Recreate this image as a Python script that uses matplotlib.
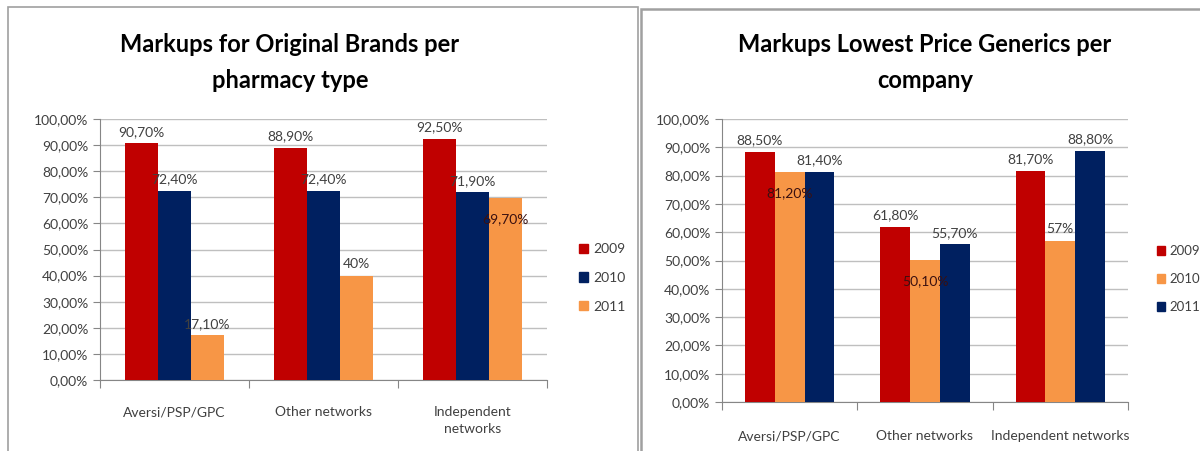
import matplotlib
matplotlib.use('Agg')
import matplotlib.pyplot as plt
from matplotlib.patches import Rectangle
from matplotlib.ticker import FuncFormatter, MultipleLocator

plt.rcParams['font.family'] = ['Lato', 'DejaVu Sans']

# data
years = ['2009', '2010', '2011']
left_cats = ['Aversi/PSP/GPC', 'Other networks', 'Independent\nnetworks']
left_vals = {'2009': [90.7, 88.9, 92.5],
             '2010': [72.4, 72.4, 71.9],
             '2011': [17.1, 40.0, 69.7]}
left_labels = {'2009': ['90,70%', '88,90%', '92,50%'],
               '2010': ['72,40%', '72,40%', '71,90%'],
               '2011': ['17,10%', '40%', '69,70%']}
right_cats = ['Aversi/PSP/GPC', 'Other networks', 'Independent networks']
right_vals = {'2009': [88.5, 61.8, 81.7],
              '2010': [81.2, 50.1, 57.0],
              '2011': [81.4, 55.7, 88.8]}
right_labels = {'2009': ['88,50%', '61,80%', '81,70%'],
                '2010': ['81,20%', '50,10%', '57%'],
                '2011': ['81,40%', '55,70%', '88,80%']}

RED = '#C00000'
NAVY = '#002060'
ORANGE = '#F79646'
left_colors = {'2009': RED, '2010': NAVY, '2011': ORANGE}
right_colors = {'2009': RED, '2010': ORANGE, '2011': NAVY}

W, H = 1200, 451
fig = plt.figure(figsize=(12, 4.51), dpi=100)


def px_axes(x0, y0, x1, y1):
    return fig.add_axes([x0 / W, 1 - y1 / H, (x1 - x0) / W, (y1 - y0) / H])


def draw_chart(ax, cats, vals, labels, colors, inside):
    w = 0.22
    for i, y in enumerate(years):
        xs = [k + 0.5 + (i - 1) * w for k in range(len(cats))]
        ax.bar(xs, vals[y], width=w, color=colors[y], zorder=3)
        for k, (x, v) in enumerate(zip(xs, vals[y])):
            if (y, k) in inside:
                ax.annotate(labels[y][k], (x, v), xytext=(0, -15), textcoords='offset points',
                            ha='center', va='center', fontsize=10, color='#3a1010', zorder=4)
            else:
                ax.annotate(labels[y][k], (x, v), xytext=(0, 4), textcoords='offset points',
                            ha='center', va='bottom', fontsize=10, color='#404040', zorder=4)
    ax.set_xlim(0, len(cats))
    ax.set_ylim(0, 100)
    ax.yaxis.set_major_locator(MultipleLocator(10))
    ax.yaxis.set_major_formatter(FuncFormatter(lambda v, p: ('%.2f%%' % v).replace('.', ',')))
    ax.set_xticks(range(len(cats) + 1))
    ax.set_xticklabels([])
    ax.grid(axis='y', color='#BFBFBF', lw=1, zorder=0)
    for s in ['top', 'right']:
        ax.spines[s].set_visible(False)
    for s in ['left', 'bottom']:
        ax.spines[s].set_color('#868686')
    ax.tick_params(axis='y', colors='#868686', labelcolor='#404040', labelsize=10, length=5)
    ax.tick_params(axis='x', colors='#868686', length=6)
    for k, c in enumerate(cats):
        ax.text(k + 0.5, -0.1, c, transform=ax.get_xaxis_transform(), ha='center', va='top',
                fontsize=10, color='#404040', linespacing=1.5)


def add_legend(colors, x, y, size=10):
    handles = [Rectangle((0, 0), 1, 1, color=colors[yr]) for yr in years]
    fig.legend(handles, years, loc='center left', bbox_to_anchor=(x / W, 1 - y / H),
               frameon=False, fontsize=size, handlelength=0.65, handleheight=0.65,
               handletextpad=0.35, labelspacing=1.2, borderpad=0, labelcolor='#404040')


# left chart
ax1 = px_axes(100, 119, 547, 380)
draw_chart(ax1, left_cats, left_vals, left_labels, left_colors, {('2011', 2)})
add_legend(left_colors, 572, 278)
fig.text(290 / W, 1 - 45 / H, 'Markups for Original Brands per', ha='center', va='center',
         fontsize=17, fontweight='bold')
fig.text(290 / W, 1 - 80 / H, 'pharmacy type', ha='center', va='center',
         fontsize=17, fontweight='bold')

# right chart
ax2 = px_axes(722, 119, 1128, 402)
draw_chart(ax2, right_cats, right_vals, right_labels, right_colors, {('2010', 0), ('2010', 1)})
add_legend(right_colors, 1150, 279, size=9.5)
fig.text(925 / W, 1 - 45 / H, 'Markups Lowest Price Generics per', ha='center', va='center',
         fontsize=17, fontweight='bold')
fig.text(925 / W, 1 - 80 / H, 'company', ha='center', va='center',
         fontsize=17, fontweight='bold')

# panel frames
fig.add_artist(Rectangle((8 / W, -0.1), (638 - 8) / W, 1.1 - 7 / H, transform=fig.transFigure,
                         fill=False, ec='#A0A0A0', lw=1.2))
fig.add_artist(Rectangle((641 / W, -0.1), 0.5, 1.1 - 9 / H, transform=fig.transFigure,
                         fill=False, ec='#A0A0A0', lw=1.8))

fig.savefig('out.png', dpi=100)
